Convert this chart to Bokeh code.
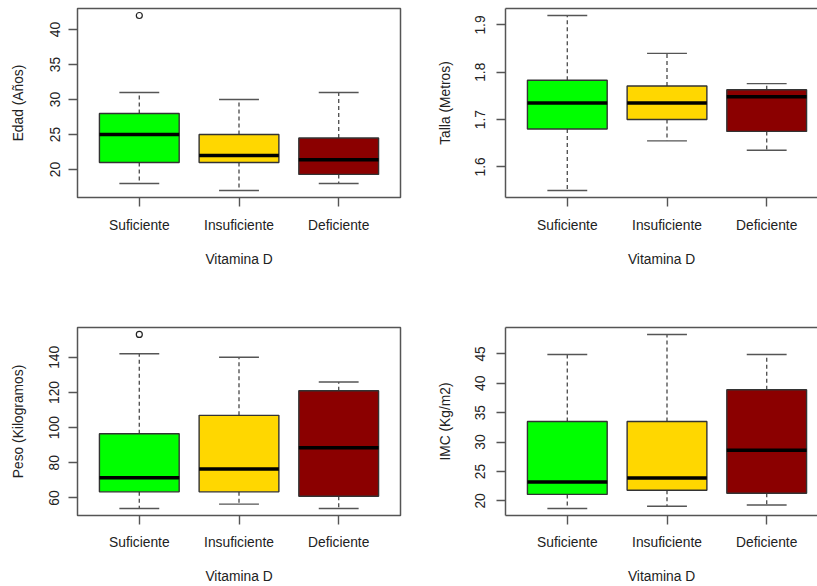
import numpy as np
from bokeh.plotting import figure
from bokeh.layouts import column, row
from bokeh.models import FixedTicker, Range1d, LinearAxis
from bokeh.embed import file_html
from bokeh.resources import INLINE

# ---------------- data ----------------
categories = ["Suficiente", "Insuficiente", "Deficiente"]
box_colors = ["#00FF00", "#FFD700", "#8B0000"]
x_title = "Vitamina D"

edad_low = [18, 17, 18]
edad_q1 = [21, 21, 19.3]
edad_med = [25, 22, 21.4]
edad_q3 = [28, 25, 24.5]
edad_high = [31, 30, 31]
edad_out_cat = ["Suficiente"]
edad_out_val = [42]
edad_ticks = [20, 25, 30, 35, 40]

talla_low = [1.55, 1.655, 1.635]
talla_q1 = [1.68, 1.70, 1.675]
talla_med = [1.735, 1.735, 1.748]
talla_q3 = [1.783, 1.771, 1.763]
talla_high = [1.92, 1.84, 1.776]
talla_out_cat = []
talla_out_val = []
talla_ticks = [1.6, 1.7, 1.8, 1.9]

peso_low = [54, 56.5, 54]
peso_q1 = [63.5, 63.5, 61]
peso_med = [71.5, 76.5, 88.5]
peso_q3 = [96.5, 107, 121]
peso_high = [142, 140, 126]
peso_out_cat = ["Suficiente"]
peso_out_val = [153]
peso_ticks = [60, 80, 100, 120, 140]

imc_low = [18.7, 19.1, 19.3]
imc_q1 = [21.1, 21.8, 21.3]
imc_med = [23.2, 23.9, 28.6]
imc_q3 = [33.5, 33.5, 38.9]
imc_high = [44.9, 48.3, 44.9]
imc_out_cat = []
imc_out_val = []
imc_ticks = [20, 25, 30, 35, 40, 45]

FONT = "Liberation Sans"
FS = "13.8px"
TXT = "#222222"
LINE = "#555555"


def make_panel(low, q1, med, q3, high, out_cat, out_val, ticks, ylabel,
               width, height, borders, right_side, xtick_standoff, xlab_standoff):
    n = len(categories)
    pos = np.arange(1, n + 1, dtype=float)
    lo = min(low + out_val)
    hi = max(high + out_val)
    pad = 0.04 * (hi - lo)
    x0 = 0.5 - 0.04 * n
    x1 = n + 0.5 + 0.04 * n
    frame_w = width - borders[0] - borders[1]
    if right_side:
        x1 = x0 + (x1 - x0) * frame_w / 323.0
    p = figure(width=width, height=height, output_backend="svg", toolbar_location=None,
               x_range=Range1d(x0, x1), y_range=Range1d(lo - pad, hi + pad),
               min_border_left=borders[0], min_border_right=borders[1],
               min_border_top=borders[2], min_border_bottom=borders[3])
    p.grid.visible = False
    p.background_fill_color = "white"
    p.border_fill_color = "white"

    # whiskers
    p.segment(x0=pos, y0=q3, x1=pos, y1=high, line_color=LINE, line_width=1.4, line_dash="4 3")
    p.segment(x0=pos, y0=q1, x1=pos, y1=low, line_color=LINE, line_width=1.4, line_dash="4 3")
    p.segment(x0=pos - 0.2, y0=high, x1=pos + 0.2, y1=high, line_color=LINE, line_width=1.4)
    p.segment(x0=pos - 0.2, y0=low, x1=pos + 0.2, y1=low, line_color=LINE, line_width=1.4)
    # boxes
    p.vbar(x=pos, width=0.8, bottom=q1, top=q3, fill_color=box_colors,
           line_color="#333333", line_width=1.4)
    # medians
    p.segment(x0=pos - 0.4, y0=med, x1=pos + 0.4, y1=med, line_color="black", line_width=3.5)
    # outliers
    if out_val:
        ox = [categories.index(c) + 1 for c in out_cat]
        p.scatter(x=ox, y=out_val, marker="circle", size=6, fill_color=None,
                  line_color=TXT, line_width=1.2)

    xa = p.xaxis[0]
    ya = p.yaxis[0]
    xa.ticker = FixedTicker(ticks=[int(v) for v in pos])
    xa.major_label_overrides = {int(i + 1): c for i, c in enumerate(categories)}
    ya.ticker = FixedTicker(ticks=ticks)
    ya.major_label_orientation = "vertical"
    xa.axis_label = x_title
    ya.axis_label = ylabel
    for ax in (xa, ya):
        ax.major_tick_out = 9
        ax.major_tick_in = 0
        ax.minor_tick_out = 0
        ax.minor_tick_in = 0
        ax.major_tick_line_color = LINE
        ax.major_tick_line_width = 1.4
        ax.major_label_text_font = FONT
        ax.major_label_text_font_size = FS
        ax.major_label_text_color = TXT
        ax.axis_label_text_font = FONT
        ax.axis_label_text_font_size = FS
        ax.axis_label_text_font_style = "normal"
        ax.axis_label_text_color = TXT
    xa.major_label_standoff = xtick_standoff
    xa.axis_label_standoff = xlab_standoff

    if right_side:
        ya.major_label_standoff = 11
        ya.axis_label_standoff = 20
        p.outline_line_color = None
        xa.axis_line_color = LINE
        ya.axis_line_color = LINE
        xa.axis_line_width = 1.5
        ya.axis_line_width = 1.5
        top = LinearAxis(ticker=FixedTicker(ticks=[]), major_tick_out=0, major_tick_in=0,
                         minor_tick_out=0, minor_tick_in=0, major_label_standoff=0,
                         major_label_text_font_size="0px", axis_line_color=LINE,
                         axis_line_width=1.5)
        p.add_layout(top, "above")
    else:
        ya.major_label_standoff = 9
        ya.axis_label_standoff = 21
        p.outline_line_color = LINE
        p.outline_line_width = 1.5
        xa.axis_line_color = None
        ya.axis_line_color = None
    return p


p1 = make_panel(edad_low, edad_q1, edad_med, edad_q3, edad_high, edad_out_cat, edad_out_val,
                edad_ticks, "Edad (Años)", 408, 300, (77, 8, 8, 103), False, 11, 16)
p2 = make_panel(talla_low, talla_q1, talla_med, talla_q3, talla_high, talla_out_cat, talla_out_val,
                talla_ticks, "Talla (Metros)", 409, 300, (97, 0, 8, 103), True, 11, 16)
p3 = make_panel(peso_low, peso_q1, peso_med, peso_q3, peso_high, peso_out_cat, peso_out_val,
                peso_ticks, "Peso (Kilogramos)", 408, 286, (77, 8, 26, 70), False, 10, 16)
p4 = make_panel(imc_low, imc_q1, imc_med, imc_q3, imc_high, imc_out_cat, imc_out_val,
                imc_ticks, "IMC (Kg/m2)", 409, 286, (97, 0, 27, 70), True, 10, 16)

layout = column(row(p1, p2), row(p3, p4))
open("out.html", "w").write(file_html(layout, INLINE))
